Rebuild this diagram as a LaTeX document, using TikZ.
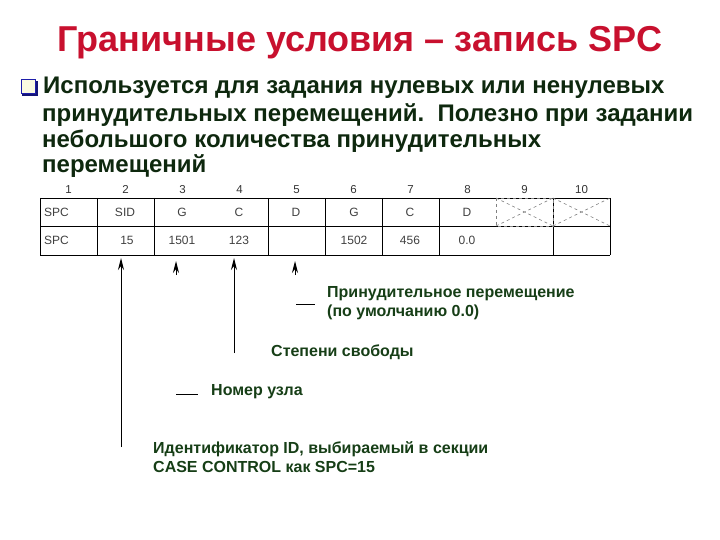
\documentclass[tikz,border=0pt]{standalone}
\usepackage{fontspec}
\setmainfont{Liberation Sans}
\usetikzlibrary{arrows.meta}
\definecolor{titlered}{RGB}{200,16,46}
\definecolor{bodygreen}{RGB}{14,40,14}
\definecolor{labgreen}{RGB}{22,62,22}
\definecolor{bulletblue}{RGB}{30,30,170}
\definecolor{bulletfill}{RGB}{250,250,225}
\tikzset{
  body/.style={anchor=west,inner sep=0pt,text=bodygreen,font=\fontsize{24}{27}\selectfont\bfseries},
  lab/.style={anchor=west,inner sep=0pt,text=labgreen,font=\fontsize{16}{18.5}\selectfont\bfseries,align=left},
  cell/.style={inner sep=0pt,anchor=base,text=black!75,font=\fontsize{12}{13}\selectfont},
  hdr/.style={inner sep=0pt,anchor=base,text=black!80,font=\fontsize{11.5}{12}\selectfont},
  grid/.style={line width=0.9pt},
  xline/.style={gray,dashed,line width=0.6pt},
  arr/.style={line width=1pt,-{Stealth[length=12pt,width=6pt]}},
  tickline/.style={line width=0.8pt}
}
\begin{document}
\begin{tikzpicture}[x=1pt,y=-1pt]
\useasboundingbox (0,0) rectangle (720,540);
% title
\node[inner sep=0pt,text=titlered,font=\fontsize{36}{40}\selectfont\bfseries] (title) at (360,43) {Граничные условия – запись SPC};
% bullet
\node[draw=bulletblue,line width=1.5pt,minimum size=14pt,inner sep=0pt,fill=bulletfill] (bul) at (28.5,86.5) {};
\draw[bulletblue!70!black,line width=2pt] (bul.south west) ++(1.5,1.2) -- ++(14.5,0) -- ++(0,-14.5);
\node[body] (l1) at (43,88) {Используется для задания нулевых или ненулевых};
\node[body] (l2) at (42,115) {принудительных перемещений.\ \ Полезно при задании};
\node[body] (l3) at (42,141) {небольшого количества принудительных};
\node[body] (l4) at (42,166) {перемещений};
% header numbers
\foreach \i/\n in {1/1,2/2,3/3,4/4,5/5,6/6,7/7,8/8,9/9,10/10}{
  \node[hdr] (h\i) at ({40+57*(\i-1)+28.5},194) {\n};
}
% table grid
\draw[grid] (40,198) -- (610,198);
\draw[grid] (40,226) -- (610,226);
\draw[grid] (40,255) -- (610,255);
\foreach \x in {40,97,154,268,325,382,439,553,610}{
  \draw[grid] (\x,198) -- (\x,255);
}
% crossed cells
\draw[xline] (496,198) rectangle (553,226);
\draw[xline] (496,198) -- (553,226);
\draw[xline] (496,226) -- (553,198);
\draw[xline] (553,198) -- (610,226);
\draw[xline] (553,226) -- (610,198);
% row 1
\node[cell,anchor=base west] (r1c1) at (44,216) {SPC};
\node[cell] (r1c2) at (125,216) {SID};
\node[cell] (r1c3) at (182,216) {G};
\node[cell] (r1c4) at (239,216) {C};
\node[cell] (r1c5) at (296,216) {D};
\node[cell] (r1c6) at (354,216) {G};
\node[cell] (r1c7) at (410,216) {C};
\node[cell] (r1c8) at (467,216) {D};
% row 2
\node[cell,anchor=base west] (r2c1) at (44,244) {SPC};
\node[cell] (r2c2) at (127,244) {15};
\node[cell] (r2c3) at (182,244) {1501};
\node[cell] (r2c4) at (239,244) {123};
\node[cell] (r2c6) at (354,244) {1502};
\node[cell] (r2c7) at (410,244) {456};
\node[cell] (r2c8) at (467,244) {0.0};
% arrows
\coordinate (a1b) at (121,447);
\coordinate (a1t) at (121,258);
\coordinate (a2b) at (176,275);
\coordinate (a2t) at (176,261);
\coordinate (a3b) at (234,353);
\coordinate (a3t) at (234,258);
\coordinate (a4b) at (295,275);
\coordinate (a4t) at (295,261);
\draw[arr] (a1b) -- (a1t);
\draw[arr] (a2b) -- (a2t);
\draw[arr] (a3b) -- (a3t);
\draw[arr] (a4b) -- (a4t);
% labels
\node[lab] (lp) at (327,303) {Принудительное перемещение\\(по умолчанию 0.0)};
\coordinate (dp) at (296,304);
\draw[tickline] (dp) -- ++(19,0);
\node[lab] (ls) at (271,352) {Степени свободы};
\node[lab] (ln) at (211,392) {Номер узла};
\coordinate (dn) at (176,394);
\draw[tickline] (dn) -- ++(22,0);
\node[lab] (li) at (153,457) {Идентификатор ID, выбираемый в секции\\CASE CONTROL как SPC=15};
\end{tikzpicture}
\end{document}
